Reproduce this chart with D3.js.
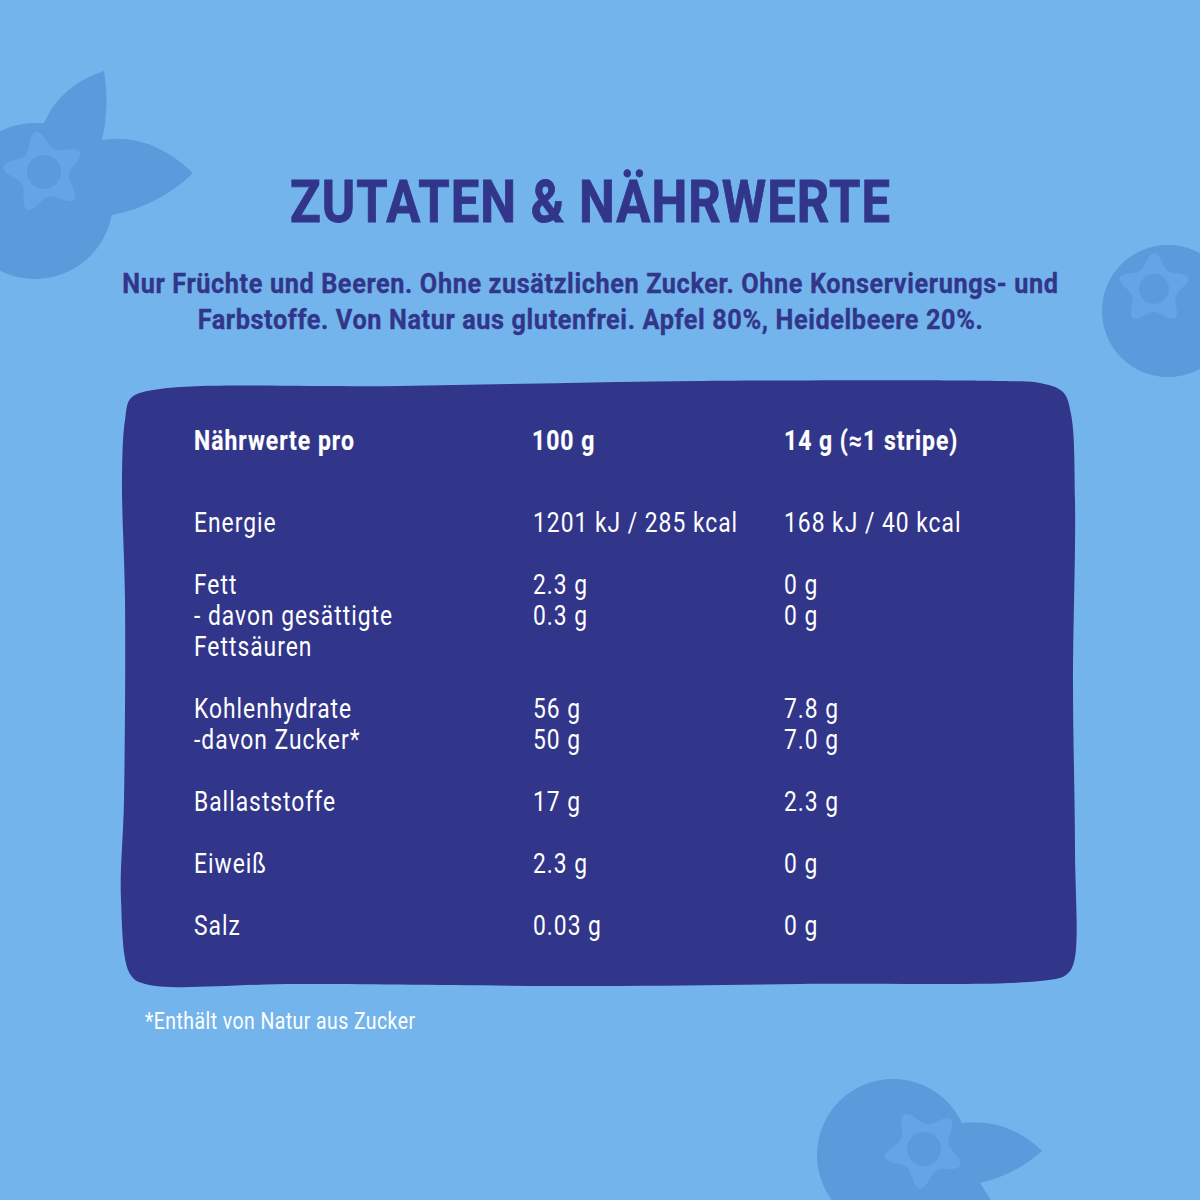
<!DOCTYPE html>
<html lang="de"><head><meta charset="utf-8">
<script src="https://cdnjs.cloudflare.com/ajax/libs/d3/7.8.5/d3.min.js"></script>
<style>html,body{margin:0;padding:0;background:#74b4ec}svg{display:block}text{font-family:Roboto,sans-serif}</style>
</head><body><script>
const titleText = "ZUTATEN & NÄHRWERTE";
const introLines = ["Nur Früchte und Beeren. Ohne zusätzlichen Zucker. Ohne Konservierungs- und","Farbstoffe. Von Natur aus glutenfrei. Apfel 80%, Heidelbeere 20%."];
const headers = ["Nährwerte pro","100 g","14 g (≈1 stripe)"];
const nutrients = ["Energie","","Fett","- davon gesättigte","Fettsäuren","","Kohlenhydrate","-davon Zucker*","","Ballaststoffe","","Eiweiß","","Salz"];
const per100 = ["1201 kJ / 285 kcal","","2.3 g","0.3 g","","","56 g","50 g","","17 g","","2.3 g","","0.03 g"];
const perStripe = ["168 kJ / 40 kcal","","0 g","0 g","","","7.8 g","7.0 g","","2.3 g","","0 g","","0 g"];
const footnote = "*Enthält von Natur aus Zucker";

const W=1200,H=1200, navy="#32368a", bg="#74b4ec", berry="#5b9adb", star="#64a5e6";
const svg=d3.select("body").append("svg").attr("width",W).attr("height",H).attr("viewBox",`0 0 ${W} ${H}`);
svg.append("rect").attr("width",W).attr("height",H).attr("fill",bg);

function drawStar(cx,cy,rot,ro,ri,rc){
  const pts=[];
  d3.range(5).forEach(i=>{
    const a=rot+i*2*Math.PI/5;
    pts.push([a-0.13,ro*0.93],[a,ro],[a+0.13,ro*0.93],[a+Math.PI/5,ri]);
  });
  const l=d3.lineRadial().curve(d3.curveCatmullRomClosed.alpha(0.5));
  const g=svg.append("g").attr("transform",`translate(${cx},${cy})`);
  g.append("path").attr("d",l(pts)).attr("fill",star);
  g.append("circle").attr("r",rc).attr("fill",berry);
}
function blob(d){svg.append("path").attr("d",d).attr("fill",berry);}
// top-left berry
blob("M43,125Q60,85 104,71Q110,105 102,140Q150,132 193,173Q160,205 113,215L60,190Z");
svg.append("circle").attr("cx",35).attr("cy",201).attr("r",78).attr("fill",berry);
drawStar(44,172,-0.2,41,25,17);
// right berry
svg.append("circle").attr("cx",1168).attr("cy",311).attr("r",66).attr("fill",berry);
drawStar(1154,289,0,36,23,15);
// bottom berry
blob("M955,1124Q1005,1115 1042,1151Q1015,1175 980,1183L992,1202L950,1202Z");
svg.append("circle").attr("cx",893).attr("cy",1155).attr("r",76).attr("fill",berry);
drawStar(924,1149,-0.52,40,25,17);

// panel
const panel=[[131,398],[160,389],[400,386],[700,381],[1000,381],[1040,383],[1063,392],[1071,414],[1075,500],[1073,685],[1075,850],[1074,962],[1066,975],[1040,981],[800,984],[600,986],[300,984],[145,984],[130,974],[121,900],[124,800],[125,600],[122,480],[125,420]];
svg.append("path").attr("d",d3.line().curve(d3.curveCatmullRomClosed.alpha(0.5))(panel)).attr("fill",navy);

function put(sel,x,y,txt,size,weight,fill,sx,ls,anchor,sw){
  return sel.append("text").attr("transform",`translate(${x},${y}) scale(${sx},1)`)
    .attr("font-size",size).attr("font-weight",weight).attr("fill",fill)
    .attr("stroke",sw?fill:"none").attr("stroke-width",sw||0)
    .attr("letter-spacing",ls/sx).attr("text-anchor",anchor||"start").text(txt);
}
const cx=590.5;
put(svg,cx,222,titleText,60,700,navy,0.845,1.08,"middle",0.9);
introLines.forEach((t,i)=>put(svg,cx,293+i*36,t,27.5,700,navy,0.92,0.6,"middle",0.35));

const colX=d3.scaleOrdinal().domain([0,1,2]).range([194,533,784]);
const row=d3.scaleLinear().domain([0,13]).range([532,935]);
headers.forEach((h,i)=>put(svg,colX(i)-(i==1?1:0),450,h,27,700,"#fff",0.85,1,"start",0.2));
[nutrients,per100,perStripe].forEach((arr,c)=>arr.forEach((t,i)=>{ if(t) put(svg,colX(c),row(i),t,27,400,"#fff",0.845,1); }));
put(svg,145,1029,footnote,23,400,"#fff",0.845,0.45);
</script></body></html>
